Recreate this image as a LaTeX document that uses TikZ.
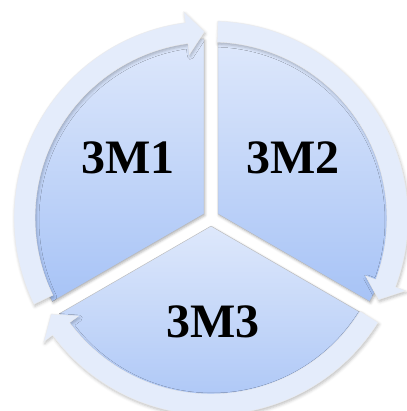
\documentclass[tikz,border=0pt]{standalone}
\usepackage{fontspec}
\setmainfont{Liberation Serif}
\usetikzlibrary{shadows.blur}
\definecolor{secTop}{HTML}{DEE8FB}
\definecolor{secBot}{HTML}{A7C3F6}
\definecolor{ringFill}{HTML}{E4ECFB}
\newcommand{\pieR}{175}
\newcommand{\gapD}{8.1}
\newcommand{\ringIn}{176}
\newcommand{\ringOut}{197}
\newcommand{\ringMid}{186.5}
\newcommand{\headIn}{165}
\newcommand{\headOut}{208}
% one arrow of the ring: from tail angle #1 clockwise to tip angle #2
\newcommand{\ringarrow}[2]{%
  \path[ringarrow] (#1:\ringOut) arc[start angle=#1, end angle={#2+5.5}, radius=\ringOut]
    -- ({#2+5.5}:\headOut) -- (#2:\ringMid) -- ({#2+5.5}:\headIn) -- ({#2+5.5}:\ringIn)
    arc[start angle={#2+5.5}, end angle=#1, radius=\ringIn] -- cycle;}

\begin{document}
\begin{tikzpicture}[x=1pt, y=1pt,
    piece/.style={top color=secTop, bottom color=secBot, draw=black!28, line width=0.4pt,
      blur shadow={shadow xshift=1pt, shadow yshift=-1.5pt, shadow blur radius=2.5pt, shadow opacity=30}},
    ringarrow/.style={fill=ringFill, draw=black!8, line width=0.4pt,
      blur shadow={shadow xshift=1pt, shadow yshift=-2pt, shadow blur radius=3pt, shadow opacity=25}},
    piecelabel/.style={font=\fontsize{48}{48}\selectfont\bfseries, text=black, inner sep=0pt}]
  \useasboundingbox (-211,-193) rectangle (195,218);
  % ---------------------------------------------------------------- the three pieces of the pie
  \path[piece, shift={(150:\gapD)}] (0,0) -- (90:\pieR) arc[start angle=90, end angle=210, radius=\pieR] -- cycle;
  \path[piece, shift={(30:\gapD)}] (0,0) -- (-30:\pieR) arc[start angle=-30, end angle=90, radius=\pieR] -- cycle;
  \path[piece, shift={(270:\gapD)}] (0,0) -- (210:\pieR) arc[start angle=210, end angle=330, radius=\pieR] -- cycle;
  % ---------------------------------------------------------------- the ring of arrows, clockwise
  \ringarrow{206}{92}
  \ringarrow{88}{-26}
  \ringarrow{-32}{-149}
  % ---------------------------------------------------------------- labels
  \node[piecelabel] (m1) at (-83,60) {3M1};
  \node[piecelabel] (m2) at (82,60) {3M2};
  \node[piecelabel] (m3) at (2,-104) {3M3};
\end{tikzpicture}
\end{document}
